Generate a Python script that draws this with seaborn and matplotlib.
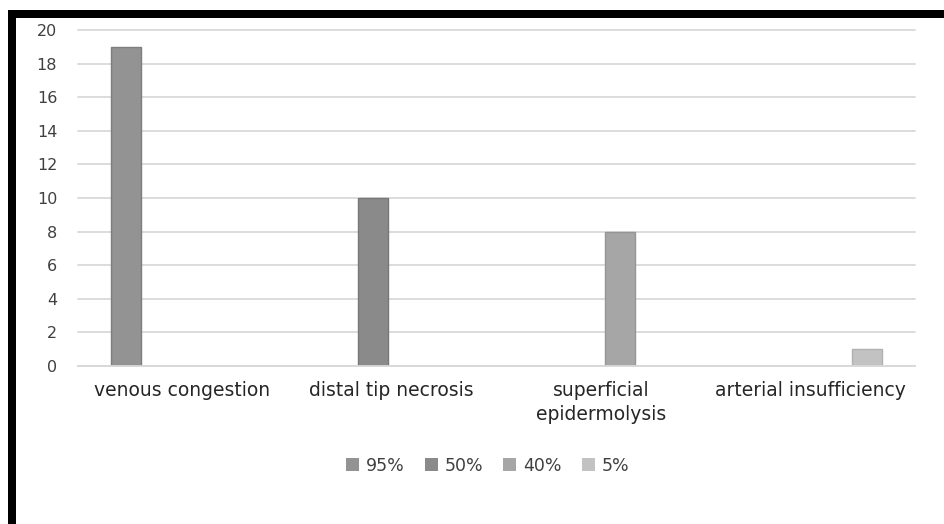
import matplotlib
matplotlib.use("Agg")
import matplotlib.pyplot as plt
import seaborn as sns
import pandas as pd
from matplotlib.patches import Rectangle

categories = ["venous congestion", "distal tip necrosis", "superficial\nepidermolysis", "arterial insufficiency"]
series = ["95%", "50%", "40%", "5%"]
values_95 = [19, 0, 0, 0]
values_50 = [0, 10, 0, 0]
values_40 = [0, 0, 8, 0]
values_5 = [0, 0, 0, 1]
yticks = [0, 2, 4, 6, 8, 10, 12, 14, 16, 18, 20]

colors = ["#939393", "#8a8a8a", "#a6a6a6", "#c2c2c2"]
edges = ["#7e7e7e", "#777777", "#959595", "#b0b0b0"]

rows = []
for s, vals in zip(series, [values_95, values_50, values_40, values_5]):
    for c, v in zip(categories, vals):
        rows.append({"category": c, "series": s, "value": v})
df = pd.DataFrame(rows)

sns.set_theme(style="white")
plt.rcParams["font.family"] = ["DejaVu Sans"]

fig = plt.figure(figsize=(9.45, 5.24), dpi=100)
ax = fig.add_axes([0.0825, 0.3015, 0.8855, 0.6412])

sns.barplot(data=df, x="category", y="value", hue="series", order=categories,
            hue_order=series, palette=colors, width=0.722, gap=0.206,
            linewidth=0, ax=ax, legend=True)

for cont, ec in zip(ax.containers, edges):
    for p in cont:
        if p.get_height() > 0:
            p.set_edgecolor(ec)
            p.set_linewidth(1.0)

ax.set_ylim(0, 20)
ax.set_yticks(yticks)
ax.set_xlim(-0.5, 3.5)
ax.yaxis.grid(True, color="#d9d9d9", linewidth=1.3)
for gl in ax.get_ygridlines():
    gl.set_clip_on(False)
ax.set_axisbelow(True)
for sp in ["top", "right", "left"]:
    ax.spines[sp].set_visible(False)
ax.spines["bottom"].set_color("#d9d9d9")
ax.spines["bottom"].set_linewidth(1.3)
ax.set_xlabel("")
ax.set_ylabel("")
ax.tick_params(axis="y", length=0, pad=15, labelsize=11.5, labelcolor="#404040")
ax.tick_params(axis="x", length=0, pad=11, labelsize=13.5, labelcolor="#262626")
for t in ax.get_xticklabels():
    t.set_linespacing(1.3)

handles, labels = ax.get_legend_handles_labels()
ax.legend_.remove()
fig.legend(handles, labels, loc="center", bbox_to_anchor=(0.516, 0.111), ncol=4,
           frameon=False, fontsize=12.5, handlelength=0.75, handleheight=0.75,
           handletextpad=0.4, columnspacing=1.15, labelcolor="#404040")

fig.patches.append(Rectangle((8/945, 1 - 18/524), 1 - 8/945, 8/524, transform=fig.transFigure,
                             facecolor="black", edgecolor="none", zorder=10))
fig.patches.append(Rectangle((8/945, 0), 8/945, 1 - 10/524, transform=fig.transFigure,
                             facecolor="black", edgecolor="none", zorder=10))

fig.savefig("out.png", dpi=100)
